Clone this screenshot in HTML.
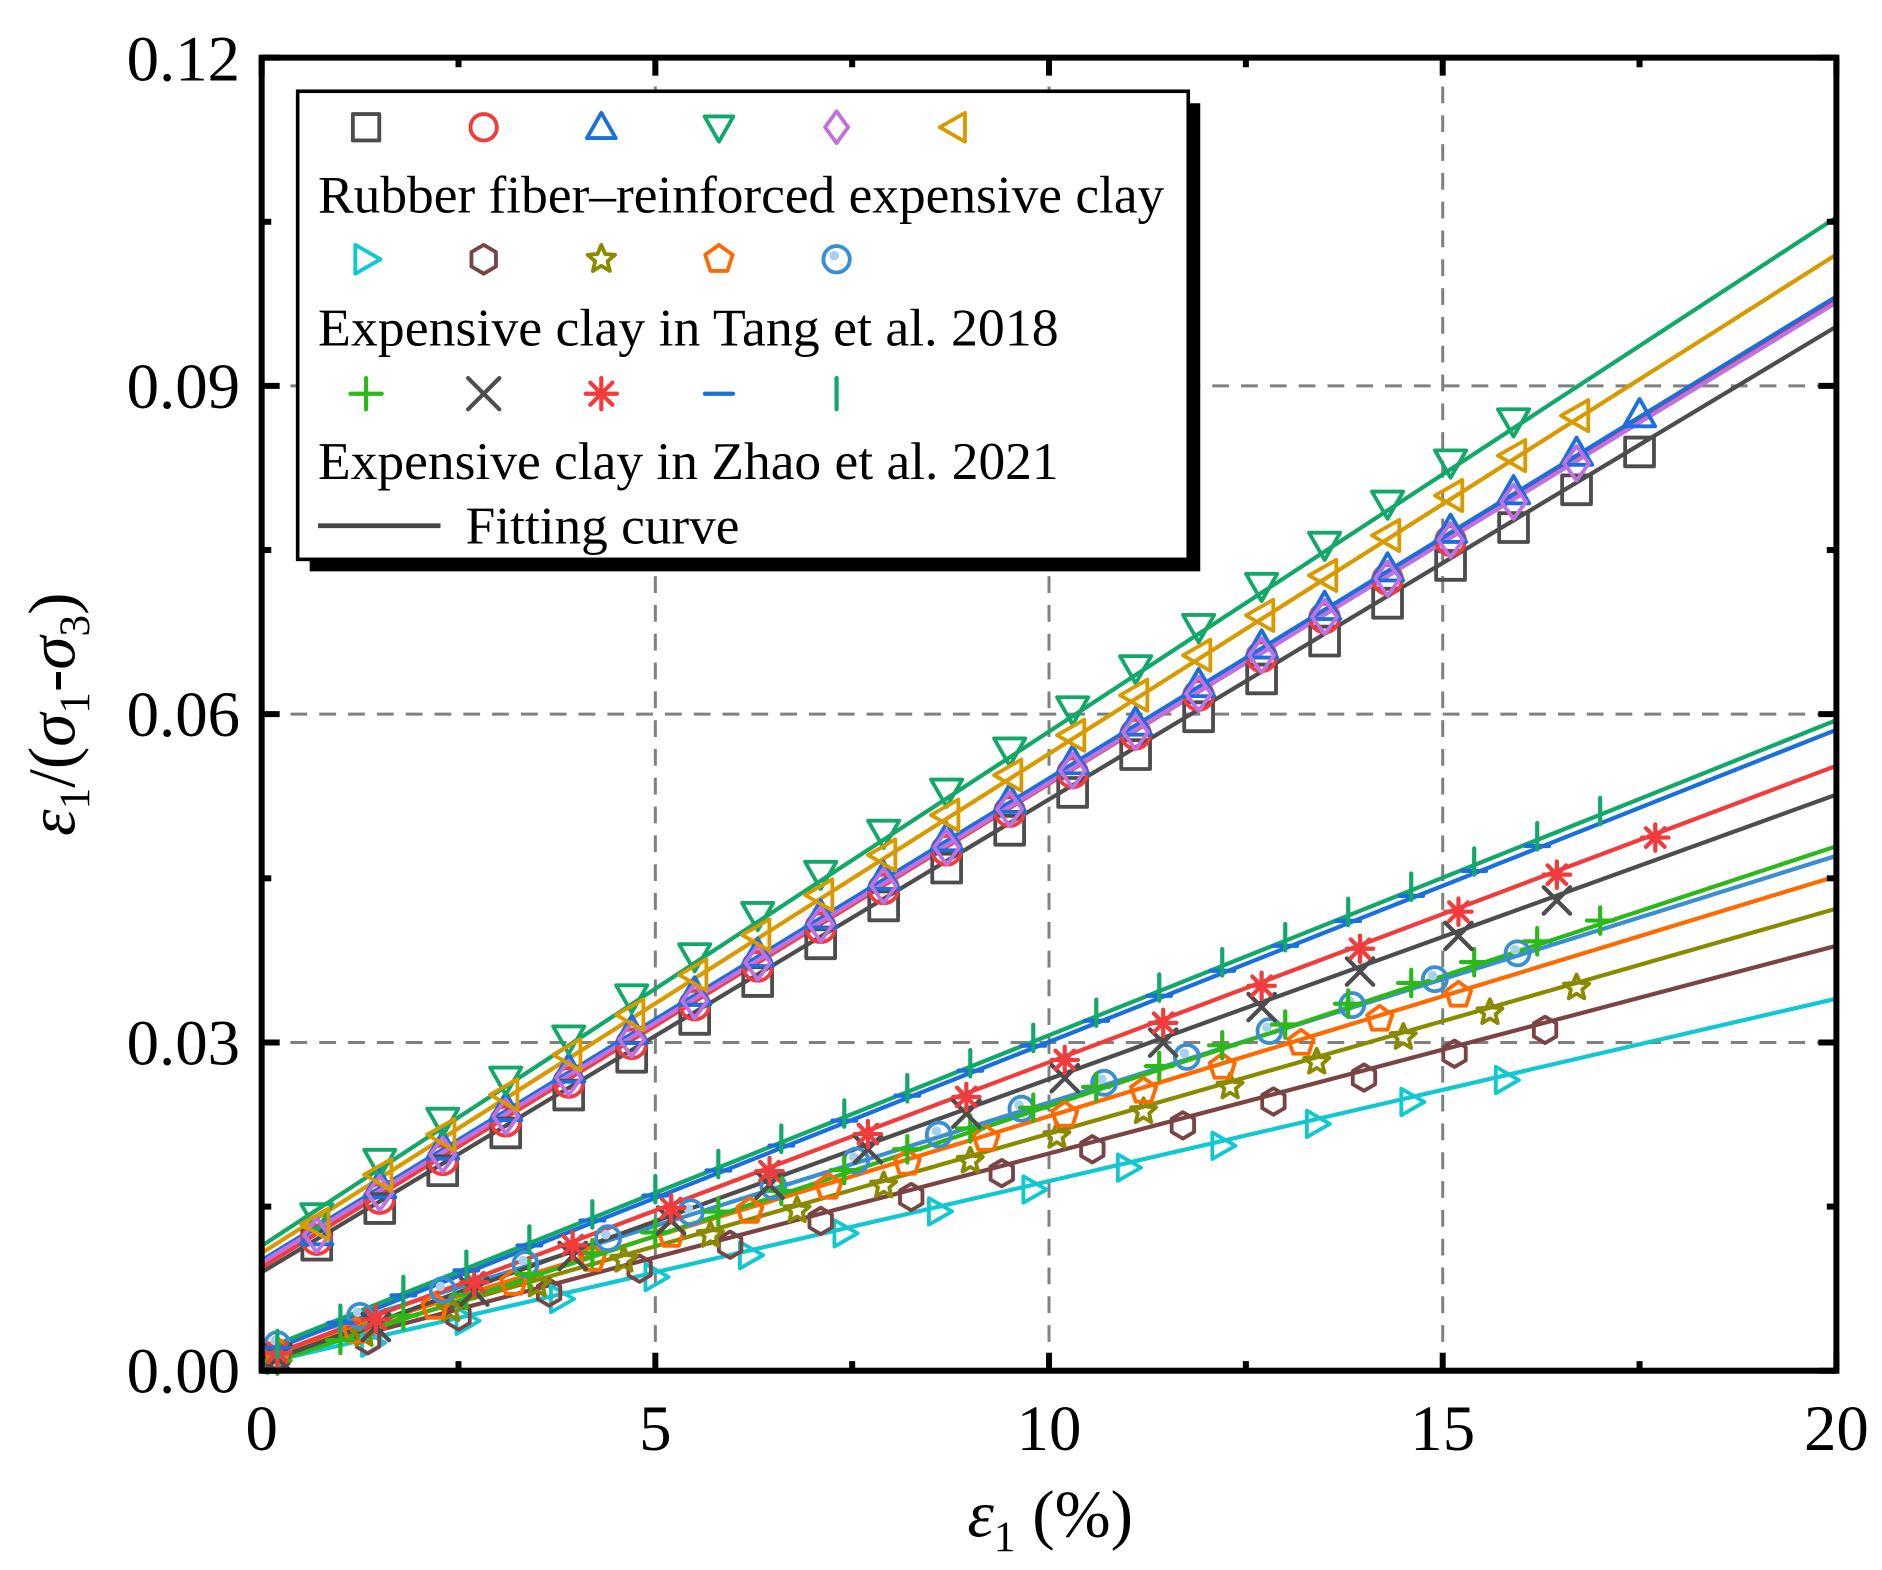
<!DOCTYPE html>
<html><head><meta charset="utf-8"><style>
html,body{margin:0;padding:0;background:#fff}
svg{display:block}
text{font-family:"Liberation Serif",serif;fill:#000}
</style></head><body>
<svg id="s" width="1882" height="1570" viewBox="0 0 1568 1308" xmlns="http://www.w3.org/2000/svg">
<g id="grid" stroke="#808080" stroke-width="2.5" stroke-dasharray="14,10" fill="none">
<line x1="546" y1="48" x2="546" y2="1142"/><line x1="874" y1="48" x2="874" y2="1142"/><line x1="1202" y1="48" x2="1202" y2="1142"/>
<line x1="218" y1="868.5" x2="1530" y2="868.5"/><line x1="218" y1="595" x2="1530" y2="595"/><line x1="218" y1="321.5" x2="1530" y2="321.5"/>
</g>
<g id="data"></g>
<g id="frame" stroke="#000" fill="none">
<rect x="218" y="48" width="1312" height="1094" stroke-width="5"/>
</g>
<g id="ticks" stroke="#000" stroke-width="5"></g>
<g font-size="54" text-anchor="end">
<text x="200" y="1160">0.00</text><text x="200" y="887">0.03</text><text x="200" y="613">0.06</text><text x="200" y="340">0.09</text><text x="200" y="67">0.12</text>
</g>
<g font-size="54" text-anchor="middle">
<text x="218" y="1208">0</text><text x="546" y="1208">5</text><text x="874" y="1208">10</text><text x="1202" y="1208">15</text><text x="1530" y="1208">20</text>
</g>
<text x="875" y="1280" font-size="56" text-anchor="middle"><tspan font-style="italic">ε</tspan><tspan font-size="36" dy="12">1</tspan><tspan dy="-12"> (%)</tspan></text>
<text transform="translate(62,595) rotate(-90)" font-size="56" text-anchor="middle"><tspan font-style="italic">ε</tspan><tspan font-size="36" dy="12">1</tspan><tspan dy="-12">/(</tspan><tspan font-style="italic">σ</tspan><tspan font-size="36" dy="12">1</tspan><tspan dy="-12">-</tspan><tspan font-style="italic">σ</tspan><tspan font-size="36" dy="12">3</tspan><tspan dy="-12">)</tspan></text>
<rect x="258" y="86" width="742" height="390" fill="#000"/>
<rect x="248" y="76" width="742" height="390" fill="#fff" stroke="#000" stroke-width="3"/>
<g id="leg"></g>
<g font-size="44">
<text x="265" y="177" textLength="705" lengthAdjust="spacingAndGlyphs">Rubber fiber–reinforced expensive clay</text>
<text x="265" y="288" textLength="617" lengthAdjust="spacingAndGlyphs">Expensive clay in Tang et al. 2018</text>
<text x="265" y="399" textLength="617" lengthAdjust="spacingAndGlyphs">Expensive clay in Zhao et al. 2021</text>
<text x="388" y="453" textLength="228" lengthAdjust="spacingAndGlyphs">Fitting curve</text>
</g>
<line x1="265" y1="438" x2="367" y2="438" stroke="#444" stroke-width="4"/>
</svg>
<script>
var NS="http://www.w3.org/2000/svg";
function el(p,t,a){var e=document.createElementNS(NS,t);for(var k in a)e.setAttribute(k,a[k]);p.appendChild(e);return e;}
var X=v=>218+65.6*v, Y=v=>1142-9117*v;
var tk=document.getElementById('ticks');
for(var i=0;i<=8;i++){var x=218+i*164,L=i%2?8:15;el(tk,'line',{x1:x,y1:1142,x2:x,y2:1142-L});el(tk,'line',{x1:x,y1:48,x2:x,y2:48+L});}
for(var i=0;i<=8;i++){var y=1142-i*136.75,L=i%2?8:15;el(tk,'line',{x1:218,y1:y,x2:218+L,y2:y});el(tk,'line',{x1:1530,y1:y,x2:1530-L,y2:y});}
function mk(g,t,c,x,y,s){s=s||11;var a={fill:'none',stroke:c,'stroke-width':3.2,'stroke-linejoin':'round'};
 if(t=='sq')el(g,'rect',Object.assign({x:x-s+1,y:y-s+1,width:2*s-2,height:2*s-2},a));
 else if(t=='ci')el(g,'circle',Object.assign({cx:x,cy:y,r:s-1},a));
 else if(t=='ci2'){el(g,'circle',Object.assign({cx:x,cy:y,r:s-1},a));el(g,'circle',{cx:x-2,cy:y-3,r:4,fill:'#a8d0f0'});}
 else{var p;
 if(t=='tu')p=[[0,-s],[s,s*.75],[-s,s*.75]];
 if(t=='td')p=[[0,s],[s,-s*.75],[-s,-s*.75]];
 if(t=='tl')p=[[-s,0],[s*.75,-s],[s*.75,s]];
 if(t=='tr')p=[[s,0],[-s*.75,-s],[-s*.75,s]];
 if(t=='di')p=[[0,-s*1.1],[s*.8,0],[0,s*1.1],[-s*.8,0]];
 if(t=='hx')p=[[0,-s],[s*.85,-s*.5],[s*.85,s*.5],[0,s],[-s*.85,s*.5],[-s*.85,-s*.5]];
 if(t=='pe'){p=[];for(var k=0;k<5;k++){var an=-Math.PI/2+k*2*Math.PI/5;p.push([s*Math.cos(an),s*Math.sin(an)]);}}
 if(t=='st'){p=[];for(var k=0;k<10;k++){var an=-Math.PI/2+k*Math.PI/5,r=k%2?s*.45:s;p.push([r*Math.cos(an),r*Math.sin(an)]);}}
 if(p){el(g,'polygon',Object.assign({points:p.map(q=>(x+q[0])+','+(y+q[1])).join(' ')},a));return;}
 var b={stroke:c,'stroke-width':3.5,'stroke-linecap':'round'};
 if(t=='pl'){el(g,'line',Object.assign({x1:x-s,y1:y,x2:x+s,y2:y},b));el(g,'line',Object.assign({x1:x,y1:y-s,x2:x,y2:y+s},b));}
 if(t=='xx'){el(g,'line',Object.assign({x1:x-s,y1:y-s,x2:x+s,y2:y+s},b));el(g,'line',Object.assign({x1:x-s,y1:y+s,x2:x+s,y2:y-s},b));}
 if(t=='as'){for(var k=0;k<4;k++){var an=k*Math.PI/4;el(g,'line',Object.assign({x1:x-s*Math.cos(an),y1:y-s*Math.sin(an),x2:x+s*Math.cos(an),y2:y+s*Math.sin(an)},b));}}
 if(t=='mi')el(g,'line',Object.assign({x1:x-s*.9,y1:y,x2:x+s*.9,y2:y},b));
 if(t=='vb')el(g,'line',Object.assign({x1:x,y1:y-s,x2:x,y2:y+s},b));
 }}
var S=[
['sq','#4d4d4d',1060,272,17.8,0.8,6],
['ci','#f03c3c',1056,250,15.8,0.8,3],
['tu','#1a6fdc',1050,247,17.5,0.8,-2],
['td','#12a86a',1038,181,16.2,0.8,-6],
['di','#c070e0',1052,252,16.7,0.8,2],
['tl','#d99a00',1044,212,16.8,0.8,-3],
['tr','#10c8d0',1136,832,16.4,1.2,4],
['hx','#7a4444',1134,788,16.5,1.15,6],
['st','#8a8a00',1132,757,17.2,1.1,4],
['pe','#ff6a00',1130,730,15.9,1.0,3],
['ci2','#3a8fd0',1124,713,16.4,1.05,-2],
['pl','#2cb818',1138,705,17.3,0.8,-3],
['xx','#4d4d4d',1136,662,17.2,1.25,4],
['as','#f03c3c',1132,638,18.5,1.25,3],
['mi','#1a6fdc',1128,608,16.3,0.8,-2],
['vb','#12a86a',1125,600,17.6,0.8,-3]
];
var g=document.getElementById('data');
S.forEach(function(s,i){
 el(g,'line',{x1:218,y1:s[2],x2:1530,y2:s[3],stroke:s[1],'stroke-width':3.5});
});
S.forEach(function(s,i){
 var start=i<6?0.7:0.2;
 for(var v=start;v<=s[4]+0.01;v+=s[5]){
  var y=s[2]+(s[3]-s[2])*v/20+s[6]*(v<1.2?0:1);
  if(i<6&&v<1)y+=5;
  mk(g,s[0],s[1],X(v),y,i<6?13:11);
 }
});
var lg=document.getElementById('leg');
var r1=['sq','ci','tu','td','di','tl'],c1=['#4d4d4d','#f03c3c','#1a6fdc','#12a86a','#c070e0','#d99a00'];
r1.forEach((t,k)=>mk(lg,t,c1[k],305+k*98,106,12));
var r2=['tr','hx','st','pe','ci2'],c2=['#10c8d0','#7a4444','#8a8a00','#ff6a00','#3a8fd0'];
r2.forEach((t,k)=>mk(lg,t,c2[k],305+k*98,216,12));
var r3=['pl','xx','as','mi','vb'],c3=['#2cb818','#4d4d4d','#f03c3c','#1a6fdc','#12a86a'];
r3.forEach((t,k)=>mk(lg,t,c3[k],305+k*98,328,13));
</script>
</body></html>
